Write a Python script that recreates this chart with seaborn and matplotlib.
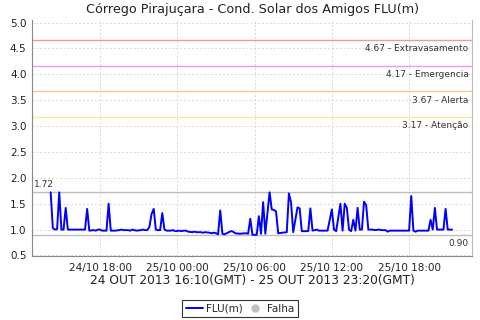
import matplotlib
matplotlib.use("Agg")
import matplotlib.pyplot as plt
import matplotlib.dates as mdates
from matplotlib.lines import Line2D
import seaborn as sns
import pandas as pd

# ---- data (local time readings, FLU in metres) ----
times = [
    "2013-10-24 14:10", "2013-10-24 14:20", "2013-10-24 14:30", "2013-10-24 14:40", "2013-10-24 14:50",
    "2013-10-24 15:00", "2013-10-24 15:10", "2013-10-24 15:20", "2013-10-24 15:30", "2013-10-24 16:10",
    "2013-10-24 16:50", "2013-10-24 17:00", "2013-10-24 17:10", "2013-10-24 17:30", "2013-10-24 17:40",
    "2013-10-24 17:50", "2013-10-24 18:00", "2013-10-24 18:10", "2013-10-24 18:30", "2013-10-24 18:40",
    "2013-10-24 18:50", "2013-10-24 19:10", "2013-10-24 19:30", "2013-10-24 19:40", "2013-10-24 19:50",
    "2013-10-24 20:10", "2013-10-24 20:20", "2013-10-24 20:30", "2013-10-24 20:40", "2013-10-24 20:50",
    "2013-10-24 21:10", "2013-10-24 21:20", "2013-10-24 21:30", "2013-10-24 21:40", "2013-10-24 21:50",
    "2013-10-24 22:00", "2013-10-24 22:10", "2013-10-24 22:20", "2013-10-24 22:30", "2013-10-24 22:40",
    "2013-10-24 22:50", "2013-10-24 23:00", "2013-10-24 23:10", "2013-10-24 23:30", "2013-10-24 23:40",
    "2013-10-24 23:50", "2013-10-25 00:10", "2013-10-25 00:20", "2013-10-25 00:30", "2013-10-25 00:40",
    "2013-10-25 00:50", "2013-10-25 01:10", "2013-10-25 01:20", "2013-10-25 01:30", "2013-10-25 01:50",
    "2013-10-25 02:00", "2013-10-25 02:10", "2013-10-25 02:30", "2013-10-25 02:40", "2013-10-25 02:50",
    "2013-10-25 03:00", "2013-10-25 03:10", "2013-10-25 03:20", "2013-10-25 03:30", "2013-10-25 03:40",
    "2013-10-25 04:00", "2013-10-25 04:10", "2013-10-25 04:20", "2013-10-25 04:30", "2013-10-25 04:50",
    "2013-10-25 05:20", "2013-10-25 05:30", "2013-10-25 05:40", "2013-10-25 05:50", "2013-10-25 06:10",
    "2013-10-25 06:20", "2013-10-25 06:30", "2013-10-25 06:40", "2013-10-25 06:50", "2013-10-25 07:10",
    "2013-10-25 07:20", "2013-10-25 07:30", "2013-10-25 07:40", "2013-10-25 07:50", "2013-10-25 08:10",
    "2013-10-25 08:30", "2013-10-25 08:40", "2013-10-25 08:50", "2013-10-25 09:00", "2013-10-25 09:20",
    "2013-10-25 09:30", "2013-10-25 09:40", "2013-10-25 10:10", "2013-10-25 10:20", "2013-10-25 10:30",
    "2013-10-25 10:50", "2013-10-25 11:00", "2013-10-25 11:40", "2013-10-25 12:00", "2013-10-25 12:10",
    "2013-10-25 12:20", "2013-10-25 12:40", "2013-10-25 12:50", "2013-10-25 13:00", "2013-10-25 13:10",
    "2013-10-25 13:20", "2013-10-25 13:30", "2013-10-25 13:40", "2013-10-25 13:50", "2013-10-25 14:00",
    "2013-10-25 14:10", "2013-10-25 14:20", "2013-10-25 14:30", "2013-10-25 14:40", "2013-10-25 14:50",
    "2013-10-25 15:10", "2013-10-25 15:20", "2013-10-25 15:40", "2013-10-25 15:50", "2013-10-25 16:10",
    "2013-10-25 16:20", "2013-10-25 16:30", "2013-10-25 18:00", "2013-10-25 18:10", "2013-10-25 18:20",
    "2013-10-25 18:30", "2013-10-25 18:40", "2013-10-25 19:30", "2013-10-25 19:40", "2013-10-25 19:50",
    "2013-10-25 20:00", "2013-10-25 20:10", "2013-10-25 20:40", "2013-10-25 20:50", "2013-10-25 21:00",
    "2013-10-25 21:20",
]
flu = [
    1.72, 1.03, 1.00, 1.01, 1.72,
    1.00, 1.00, 1.42, 1.00, 1.00,
    1.00, 1.40, 0.98, 0.99, 0.98,
    1.00, 1.00, 0.98, 0.98, 1.50,
    0.98, 0.98, 0.99, 1.00, 0.99,
    0.99, 0.98, 1.00, 0.99, 0.98,
    0.99, 1.00, 0.99, 0.99, 1.05,
    1.30, 1.40, 1.00, 0.99, 0.99,
    1.32, 1.00, 0.98, 0.98, 0.99,
    0.97, 0.98, 0.97, 0.98, 0.98,
    0.96, 0.95, 0.96, 0.95, 0.95,
    0.94, 0.95, 0.94, 0.93, 0.94,
    0.93, 0.91, 1.37, 0.92, 0.91,
    0.95, 0.97, 0.96, 0.93, 0.92,
    0.93, 0.92, 1.21, 0.90, 0.90,
    1.26, 0.92, 1.53, 0.92, 1.72,
    1.39, 1.38, 1.35, 0.93, 0.94,
    0.95, 1.70, 1.52, 0.95, 1.43,
    1.41, 0.97, 0.97, 1.41, 0.98,
    1.00, 0.98, 0.98, 1.39, 1.00,
    0.97, 1.50, 0.98, 1.50, 1.42,
    1.00, 0.97, 1.19, 0.98, 1.42,
    1.00, 1.00, 1.54, 1.47, 1.00,
    1.00, 0.99, 1.00, 0.99, 0.99,
    0.96, 0.98, 0.98, 1.65, 0.98,
    0.96, 0.98, 0.98, 1.19, 1.00,
    1.42, 1.00, 1.00, 1.40, 1.00,
    1.00,
]

threshold_values = [4.67, 4.17, 3.67, 3.17]
threshold_names = ["Extravasamento", "Emergencia", "Alerta", "Atenção"]
threshold_colors = ["#f29a9a", "#e79ae8", "#f7c896", "#f3e9a0"]

max_value = 1.72
min_value = 0.90

yticks = [0.5, 1.0, 1.5, 2.0, 2.5, 3.0, 3.5, 4.0, 4.5, 5.0]
xticks = ["2013-10-24 18:00", "2013-10-25 00:00", "2013-10-25 06:00",
          "2013-10-25 12:00", "2013-10-25 18:00"]
x_range = ["2013-10-24 12:43", "2013-10-25 22:53"]
y_range = [0.49, 5.05]

title = "Córrego Pirajuçara - Cond. Solar dos Amigos FLU(m)"
xlabel = "24 OUT 2013 16:10(GMT) - 25 OUT 2013 23:20(GMT)"

# ---- plot ----
sns.set_style("white")
plt.rcParams["font.family"] = ["DejaVu Sans"]

df = pd.DataFrame({"time": pd.to_datetime(times), "FLU(m)": flu})

fig = plt.figure(figsize=(4.8, 3.2), dpi=100)
ax = fig.add_axes([32 / 480, 1 - 256 / 320, 440 / 480, 236 / 320])

ax.set_xlim(pd.to_datetime(x_range[0]), pd.to_datetime(x_range[1]))
ax.set_ylim(*y_range)

ax.set_yticks(yticks)
ax.set_yticklabels([f"{v:.1f}" for v in yticks], fontsize=7.5, color="#222222")
ax.set_xticks(pd.to_datetime(xticks))
ax.xaxis.set_major_formatter(mdates.DateFormatter("%d/%m %H:%M"))
ax.tick_params(axis="x", labelsize=7.5, colors="#222222", length=2, pad=3)
ax.tick_params(axis="y", length=2, pad=2)
ax.tick_params(colors="#888888", which="both")
for lbl in ax.get_xticklabels() + ax.get_yticklabels():
    lbl.set_color("#222222")

ax.grid(True, color="#d8d8d8", linestyle=(0, (2, 2)), linewidth=0.7)
ax.set_axisbelow(True)

for sp in ["left", "bottom"]:
    ax.spines[sp].set_color("#888888")
    ax.spines[sp].set_linewidth(0.8)
ax.spines["right"].set_color("#bbbbbb")
ax.spines["right"].set_linewidth(0.8)
ax.spines["top"].set_visible(False)

# thresholds
for v, n, c in zip(threshold_values, threshold_names, threshold_colors):
    ax.axhline(v, color=c, linewidth=1.0, zorder=1)
    ax.annotate(f"{v:.2f} - {n}", xy=(0.992, v), xycoords=("axes fraction", "data"),
                xytext=(0, -3), textcoords="offset points", ha="right", va="top",
                fontsize=6.5, color="#333333")

# max / min lines
ax.axhline(max_value, color="#bdbdbd", linewidth=1.0, zorder=1)
ax.annotate(f"{max_value:.2f}", xy=(0.005, max_value), xycoords=("axes fraction", "data"),
            xytext=(0, 2.5), textcoords="offset points", ha="left", va="bottom",
            fontsize=6.5, color="#333333")
ax.axhline(min_value, color="#bdbdbd", linewidth=1.0, zorder=1)
ax.annotate(f"{min_value:.2f}", xy=(0.992, min_value), xycoords=("axes fraction", "data"),
            xytext=(0, -3), textcoords="offset points", ha="right", va="top",
            fontsize=6.5, color="#333333")

sns.lineplot(data=df, x="time", y="FLU(m)", ax=ax, color="#0000ff", linewidth=1.4,
             legend=False, zorder=3)
ax.set_ylabel("")
ax.set_xlabel(xlabel, fontsize=8.8, color="#222222", labelpad=1)
ax.set_title(title, fontsize=9.2, color="#222222", pad=5)

handles = [
    Line2D([0], [0], color="#0000ff", linewidth=1.4),
    Line2D([0], [0], color="#c0c0c0", marker="o", linestyle="none", markersize=5),
]
leg = fig.legend(handles, ["FLU(m)", "Falha"], loc="lower center",
                 bbox_to_anchor=(0.5, 0.008), ncol=2, fontsize=7.5, frameon=True,
                 fancybox=False, handlelength=1.6, handletextpad=0.3,
                 columnspacing=0.4, borderpad=0.35, borderaxespad=0.0)
leg.get_frame().set_edgecolor("#000000")
leg.get_frame().set_linewidth(0.8)

fig.savefig("out.png", dpi=100)
